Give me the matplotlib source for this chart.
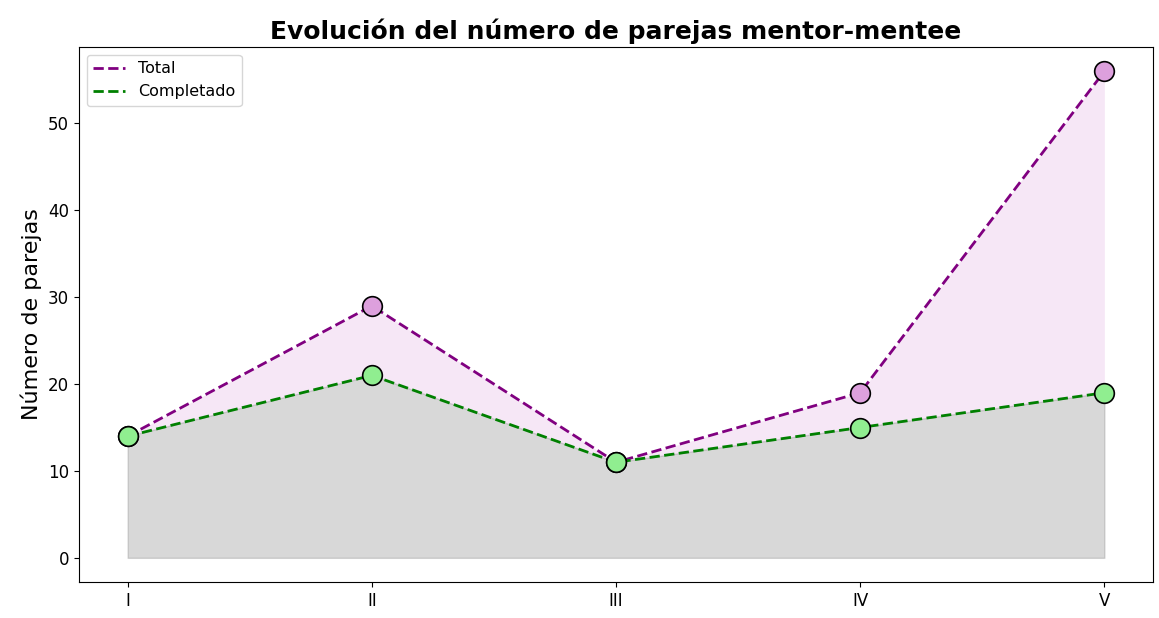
import matplotlib
matplotlib.use("Agg")
import matplotlib.pyplot as plt
import numpy as np

etapas = ["I", "II", "III", "IV", "V"]
total = [14, 29, 11, 19, 56]
completado = [14, 21, 11, 15, 19]

x = np.arange(len(etapas))

fig, ax = plt.subplots(figsize=(11.59, 6.18), dpi=100)

# relleno entre completado y total, y bajo completado
ax.fill_between(x, completado, total, color="plum", alpha=0.25, linewidth=0)
ax.fill_between(x, completado, color="gray", alpha=0.3)

ax.plot(x, total, linestyle="--", color="purple", linewidth=2, label="Total")
ax.plot(x, completado, linestyle="--", color="green", linewidth=2, label="Completado")
ax.scatter(x, total, s=200, color="plum", edgecolor="black", linewidth=1.2, zorder=3)
ax.scatter(x, completado, s=200, color="lightgreen", edgecolor="black", linewidth=1.2, zorder=3)

ax.set_xticks(x)
ax.set_xticklabels(etapas)
ax.tick_params(labelsize=12)
ax.set_ylabel("Número de parejas", fontsize=16)
ax.set_title("Evolución del número de parejas mentor-mentee", fontsize=18, fontweight="bold")
ax.legend(loc="upper left", fontsize=11.5)

plt.subplots_adjust(left=0.068, right=0.995, top=0.924, bottom=0.058)
plt.savefig("out.png", dpi=100)
